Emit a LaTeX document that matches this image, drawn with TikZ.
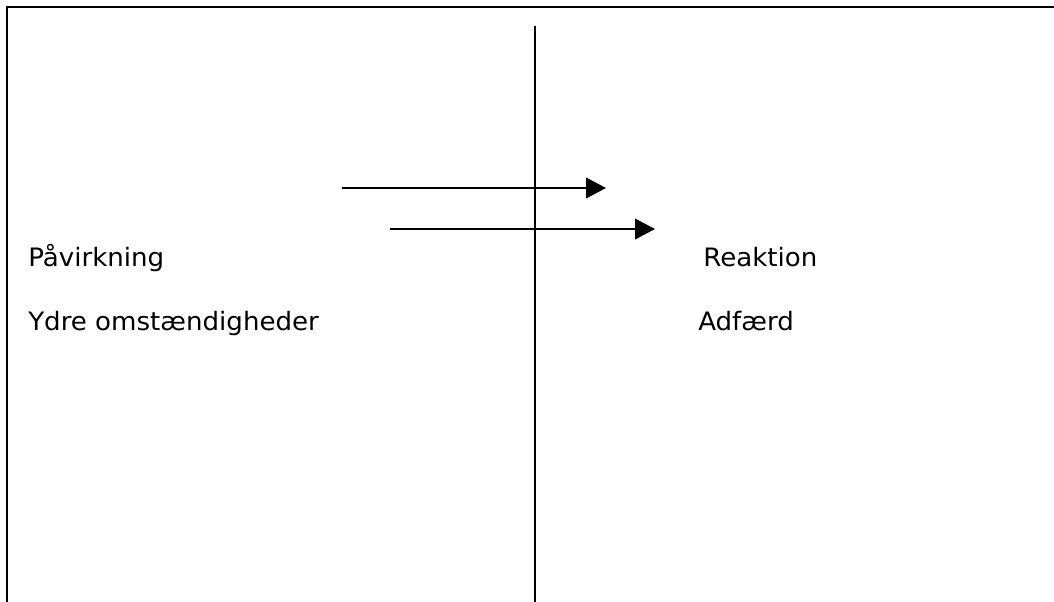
\documentclass[tikz,border=0pt]{standalone}
\usepackage{fontspec}
\setmainfont{DejaVu Sans}[FakeStretch=1.03]
\usetikzlibrary{arrows.meta}
\tikzset{
  frameline/.style={line width=1.8pt, line cap=rect},
  divider/.style={line width=1.3pt},
  flow/.style={line width=1.3pt, -{Triangle[length=15pt, width=15.5pt]}},
  label/.style={anchor=base west, inner sep=0pt, font=\fontsize{19pt}{23pt}\selectfont}
}
\begin{document}
\begin{tikzpicture}[x=0.75pt, y=-0.75pt]
  \useasboundingbox (0,0) rectangle (1054,601);
  % open frame: top edge and left edge
  \coordinate (frameBL) at (7,610);
  \coordinate (frameTL) at (7,7);
  \coordinate (frameTR) at (1060,7);
  \draw[frameline] (frameBL) -- (frameTL) -- (frameTR);
  % dividing line
  \coordinate (divTop) at (535,26);
  \coordinate (divBot) at (535,610);
  \draw[divider] (divTop) -- (divBot);
  % arrows across the divider
  \coordinate (a1s) at (342,188);
  \coordinate (a1e) at (606,188);
  \coordinate (a2s) at (390,229);
  \coordinate (a2e) at (655,229);
  \draw[flow] (a1s) -- (a1e);
  \draw[flow] (a2s) -- (a2e);
  % labels
  \node[label] (paavirkning) at (28,266.7) {Påvirkning};
  \node[label] (ydre) at (28,330.7) {Ydre omstændigheder};
  \node[label] (reaktion) at (703,266.7) {Reaktion};
  \node[label] (adfaerd) at (698,330.7) {Adfærd};
\end{tikzpicture}
\end{document}
